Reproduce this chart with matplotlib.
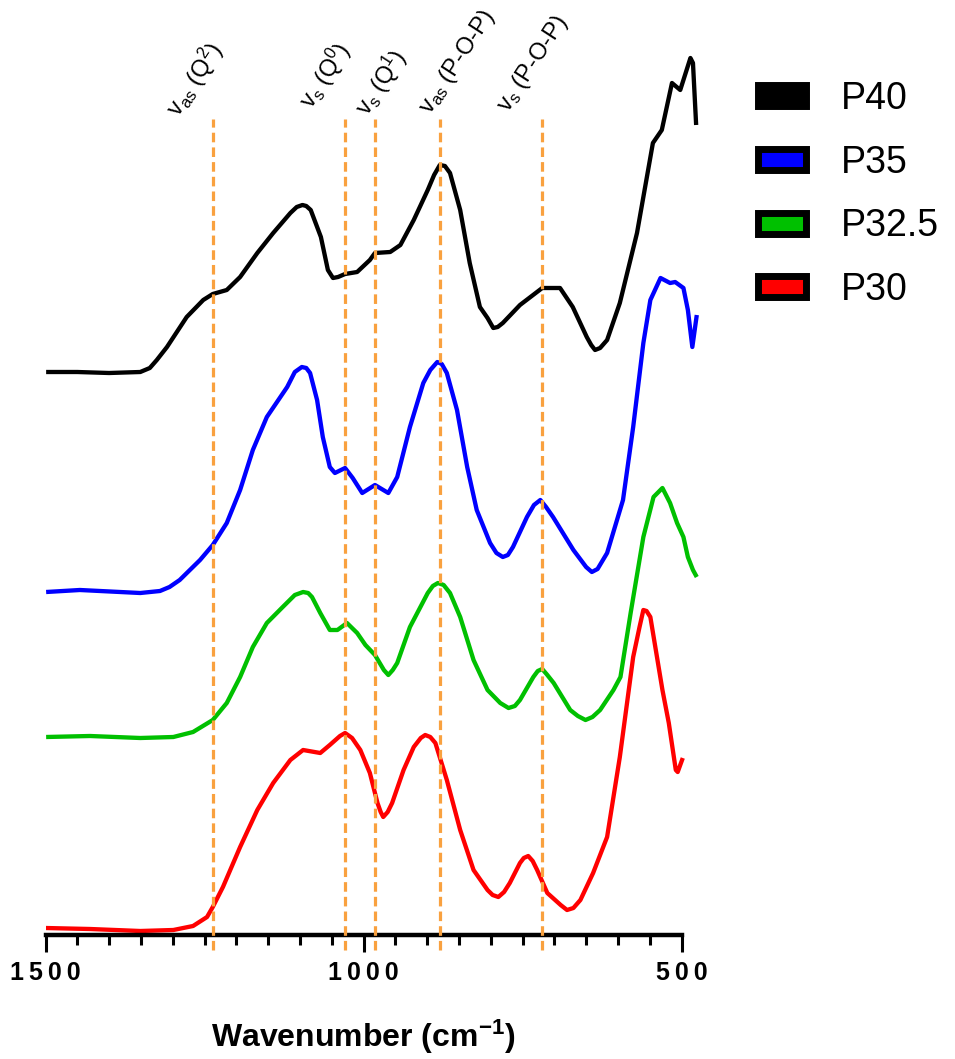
import matplotlib
matplotlib.use("Agg")
import matplotlib.pyplot as plt
import matplotlib.transforms as mtransforms
from matplotlib.patches import Patch
from matplotlib.ticker import MultipleLocator

plt.rcParams['font.family'] = ['Liberation Sans', 'DejaVu Sans']
plt.rcParams['mathtext.fontset'] = 'custom'
plt.rcParams['mathtext.rm'] = 'Liberation Sans'
plt.rcParams['mathtext.it'] = 'Liberation Sans:italic'
plt.rcParams['mathtext.bf'] = 'Liberation Sans:bold'

# ---------------- data ----------------
series_names = ["P40", "P35", "P32.5", "P30"]
series_colors = ["#000000", "#0000FF", "#00C000", "#FF0000"]
series_offsets = [5.63, 3.43, 1.98, 0.07]

wn_p40 = [1499, 1450, 1400, 1351, 1336, 1325, 1309, 1278, 1252, 1237, 1215, 1194, 1167, 1142,
          1115, 1105, 1096, 1090, 1083, 1067, 1056, 1048, 1040, 1029, 1010, 990, 982, 958,
          942, 921, 899, 889, 880, 872, 864, 848, 833, 817, 805, 796, 789, 781, 754, 719, 691,
          671, 649, 642, 636, 628, 617, 597, 570, 545, 531, 515, 502, 486, 482, 477]
abs_p40 = [0.00, 0.00, -0.01, 0.00, 0.04, 0.12, 0.25, 0.55, 0.72, 0.78, 0.82, 0.95, 1.19, 1.39,
           1.59, 1.65, 1.67, 1.66, 1.62, 1.35, 1.02, 0.94, 0.95, 0.98, 1.00, 1.12, 1.19, 1.20,
           1.27, 1.52, 1.82, 1.97, 2.07, 2.06, 1.99, 1.62, 1.09, 0.65, 0.54, 0.44, 0.45, 0.49,
           0.67, 0.84, 0.84, 0.65, 0.35, 0.27, 0.22, 0.24, 0.32, 0.69, 1.39, 2.29, 2.42, 2.89,
           2.82, 3.14, 3.09, 2.47]

wn_p35 = [1499, 1446, 1351, 1320, 1305, 1289, 1257, 1237, 1215, 1194, 1174, 1152, 1120, 1108,
          1097, 1090, 1084, 1073, 1064, 1053, 1045, 1029, 1017, 1002, 982, 961, 947, 927, 906,
          895, 884, 877, 869, 853, 837, 822, 801, 791, 781, 773, 765, 743, 732, 722, 713, 702,
          670, 650, 641, 632, 617, 592, 576, 560, 549, 533, 518, 510, 497, 490, 483, 476]
abs_p35 = [0.00, 0.02, -0.01, 0.01, 0.05, 0.12, 0.32, 0.47, 0.69, 1.02, 1.42, 1.75, 2.05, 2.20,
           2.25, 2.24, 2.19, 1.92, 1.55, 1.25, 1.19, 1.24, 1.14, 0.99, 1.07, 0.99, 1.15, 1.65,
           2.09, 2.22, 2.30, 2.28, 2.19, 1.82, 1.25, 0.82, 0.49, 0.39, 0.35, 0.37, 0.45, 0.75,
           0.87, 0.92, 0.85, 0.75, 0.42, 0.25, 0.20, 0.23, 0.39, 0.92, 1.65, 2.49, 2.92, 3.14,
           3.09, 3.10, 3.04, 2.82, 2.45, 2.77]

wn_p325 = [1499, 1430, 1351, 1299, 1268, 1237, 1215, 1194, 1174, 1152, 1127, 1108, 1095, 1087,
           1081, 1068, 1053, 1041, 1026, 1010, 997, 982, 968, 961, 954, 947, 927, 899, 891,
           883, 874, 864, 848, 827, 805, 785, 772, 762, 754, 733, 726, 719, 711, 701, 675, 663,
           651, 640, 628, 607, 596, 580, 560, 544, 530, 518, 507, 497, 490, 482, 476]
abs_p325 = [0.00, 0.01, -0.01, 0.00, 0.05, 0.17, 0.34, 0.60, 0.90, 1.14, 1.30, 1.42, 1.45, 1.44,
            1.40, 1.24, 1.07, 1.07, 1.14, 1.04, 0.92, 0.82, 0.67, 0.62, 0.67, 0.74, 1.10, 1.44,
            1.51, 1.54, 1.52, 1.44, 1.20, 0.77, 0.47, 0.34, 0.29, 0.31, 0.37, 0.60, 0.66, 0.68,
            0.62, 0.54, 0.27, 0.21, 0.17, 0.20, 0.27, 0.47, 0.60, 1.24, 2.00, 2.40, 2.49, 2.34,
            2.14, 2.00, 1.80, 1.67, 1.60]

wn_p30 = [1500, 1430, 1351, 1299, 1268, 1246, 1237, 1221, 1194, 1167, 1142, 1115, 1095, 1068,
          1053, 1037, 1029, 1018, 1005, 990, 978, 973, 969, 962, 955, 937, 921, 910, 903, 895,
          887, 869, 848, 827, 805, 797, 788, 779, 770, 754, 748, 741, 734, 727, 711, 690, 680,
          670, 659, 639, 617, 597, 576, 566, 560, 555, 549, 530, 520, 509, 506, 498]
abs_p30 = [0.00, -0.01, -0.03, -0.02, 0.02, 0.11, 0.21, 0.41, 0.81, 1.18, 1.45, 1.68, 1.78, 1.75,
           1.83, 1.92, 1.95, 1.90, 1.78, 1.55, 1.25, 1.16, 1.11, 1.16, 1.25, 1.58, 1.81, 1.90,
           1.93, 1.91, 1.85, 1.48, 0.98, 0.58, 0.38, 0.33, 0.31, 0.36, 0.45, 0.65, 0.70, 0.72,
           0.67, 0.58, 0.35, 0.23, 0.18, 0.20, 0.28, 0.55, 0.91, 1.71, 2.71, 3.01, 3.18, 3.17,
           3.11, 2.38, 2.05, 1.58, 1.56, 1.70]

band_positions = [1237, 1029, 982, 880, 719]
band_labels = [r"v$_{\rm as}$ (Q$^{\rm 2}$)", r"v$_{\rm s}$ (Q$^{\rm 0}$)",
               r"v$_{\rm s}$ (Q$^{\rm 1}$)", r"v$_{\rm as}$ (P-O-P)", r"v$_{\rm s}$ (P-O-P)"]
band_label_x = [1290, 1081, 993, 896, 773]
band_label_y = [8.17, 8.25, 8.18, 8.20, 8.22]

tick_values = [1500, 1000, 500]
tick_labels = ["1500", "1000", "500"]

# ---------------- figure ----------------
W, H = 955, 1059
fig = plt.figure(figsize=(W / 100, H / 100), dpi=100)
ax = fig.add_axes([45.5 / W, 124 / H, (700.6 - 45.5) / W, 895 / H])
ax.set_xlim(1500, 470)
ax.set_ylim(0, 8.95)

xs = [wn_p40, wn_p35, wn_p325, wn_p30]
ys = [abs_p40, abs_p35, abs_p325, abs_p30]
for x, y, off, c in zip(xs, ys, series_offsets, series_colors):
    ax.plot(x, [v + off for v in y], color=c, lw=3.1, solid_joinstyle='round',
            solid_capstyle='butt', zorder=2)

for bx, lab, lx, ly in zip(band_positions, band_labels, band_label_x, band_label_y):
    ax.plot([bx, bx], [-0.15, 8.16], color="#F9A13F", lw=2.3, ls=(0, (3, 1.6)),
            clip_on=False, zorder=3)
    ax.text(lx, ly, lab, rotation=57, rotation_mode='anchor', ha='left', va='baseline',
            fontsize=17, color='black')

for s in ['top', 'right', 'left']:
    ax.spines[s].set_visible(False)
ax.spines['bottom'].set_bounds(500, 1500)
ax.spines['bottom'].set_linewidth(3.2)
ax.set_yticks([])
ax.set_xticks(tick_values)
ax.set_xticklabels(["\u2009".join(t) for t in tick_labels], fontsize=18, fontweight='bold')
ax.xaxis.set_minor_locator(MultipleLocator(50))
ax.tick_params(axis='x', which='major', direction='out', length=12, width=2.2, pad=7)
ax.tick_params(axis='x', which='minor', direction='out', length=7.5, width=2.2)

trans = mtransforms.blended_transform_factory(ax.transData, ax.transAxes)
ax.text(1000, -0.114, r"Wavenumber (cm$^{\mathbf{-1}}$)", transform=trans, ha='center',
        va='center', fontsize=23, fontweight='bold')

handles = [Patch(facecolor=c, edgecolor='black', linewidth=5) for c in series_colors]
fig.legend(handles, series_names, loc='upper left', bbox_to_anchor=(758 / W, 1 - 81 / H),
           frameon=False, fontsize=27, handlelength=1.28, handleheight=0.49,
           handletextpad=0.92, labelspacing=0.74, borderpad=0, borderaxespad=0)

fig.savefig("out.png", dpi=100)
